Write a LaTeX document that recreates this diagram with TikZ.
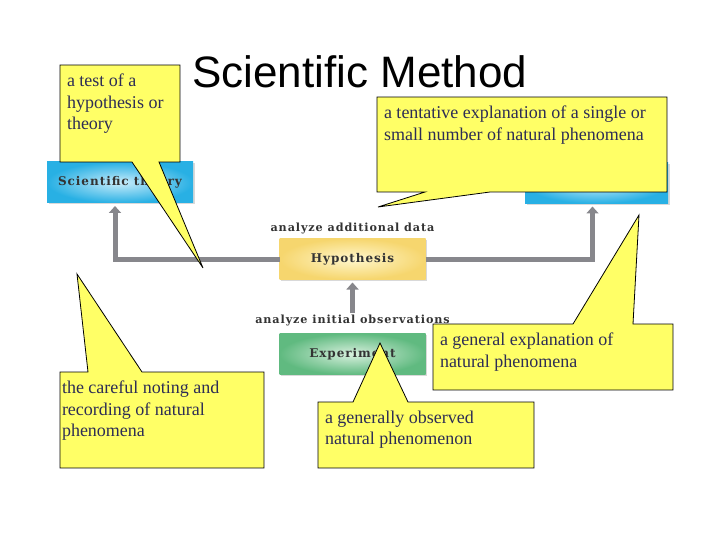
\documentclass[tikz,border=0pt]{standalone}
\usepackage{fontspec}
\setmainfont{Liberation Serif}
\newfontfamily\titlefont{Liberation Sans}
\newfontfamily\boxfont[LetterSpace=8]{DejaVu Serif}
\usetikzlibrary{arrows.meta, positioning, shadows}

\definecolor{noteyellow}{RGB}{255,255,102}
\definecolor{notetext}{RGB}{45,45,85}
\definecolor{blueedge}{RGB}{40,176,228}
\definecolor{bluemid}{RGB}{200,236,250}
\definecolor{yellowedge}{RGB}{246,214,110}
\definecolor{yellowmid}{RGB}{255,247,205}
\definecolor{greenedge}{RGB}{96,186,128}
\definecolor{greenmid}{RGB}{216,240,222}
\definecolor{flowgray}{RGB}{135,135,140}

\begin{document}
\begin{tikzpicture}[x=1pt,y=-1pt,>={Triangle[width=12pt,length=7pt]},node distance=54pt,
  box node/.style={rectangle,minimum width=146pt,minimum height=41pt,inner sep=0pt,outer sep=0pt,
    font=\boxfont\bfseries\fontsize{12}{14}\selectfont,text=black!80,
    drop shadow={shadow xshift=1.5pt,shadow yshift=-1.5pt,opacity=0.3}},
  flow label/.style={font=\boxfont\bfseries\fontsize{11.2}{13}\selectfont,text=black!80,inner sep=2pt},
  flow line/.style={draw=flowgray,line width=5pt,shorten >=3pt},
  note node/.style={fill=noteyellow,anchor=north west,inner xsep=7pt,inner ysep=9pt,outer sep=0pt,
    font=\fontsize{18}{21.5}\selectfont,text=notetext},
  note line/.style={draw=black,line width=0.8pt}]
  \useasboundingbox (0,0) rectangle (720,540);

  % the method
  \node[box node,inner color=bluemid,outer color=blueedge] (1) at (120,182.5) {Scientific theory};
  \node[box node,inner color=bluemid,outer color=blueedge,minimum width=143pt] (2) at (596.5,183) {};
  \node[box node,inner color=yellowmid,outer color=yellowedge] (3) at (352.5,259) {Hypothesis};
  \node[box node,inner color=greenmid,outer color=greenedge] (4) [below=54pt of 3] {Experiment};
  \node[flow label,above=2pt of 3] (5) {analyze additional data};
  \node[flow label,above=5pt of 4] (6) {analyze initial observations};
  \draw[flow line,->] (3.west) -| ([xshift=-5pt]1.south);
  \draw[flow line,->] (3.east) -| ([xshift=-4pt]2.south);
  \draw[flow line,->] (6) -- (3);

  \node[font=\titlefont\fontsize{44}{50}\selectfont,anchor=base west,inner sep=0pt] (title) at (192,88) {Scientific Method};

  % callouts
  \node[note node] (n1) at (60,65) {\parbox[c][79pt][t]{106pt}{a test of a\\hypothesis or\\theory}};
  \coordinate (tip1) at (203,268);
  \fill[noteyellow] ([xshift=72pt]n1.south west) -- (tip1) -- ([xshift=99pt]n1.south west) -- cycle;
  \draw[note line] ([xshift=72pt]n1.south west) -- (n1.south west) -- (n1.north west) -- (n1.north east)
    -- (n1.south east) -- ([xshift=99pt]n1.south west) -- (tip1) -- cycle;

  \node[note node] (n2) at (377,97) {\parbox[c][77pt][t]{276pt}{a tentative explanation of a single or\\small number of natural phenomena}};
  \coordinate (tip2) at (378,207);
  \fill[noteyellow] ([xshift=48pt]n2.south west) -- (tip2) -- ([xshift=113pt]n2.south west) -- cycle;
  \draw[note line] ([xshift=48pt]n2.south west) -- (n2.south west) -- (n2.north west) -- (n2.north east)
    -- (n2.south east) -- ([xshift=113pt]n2.south west) -- (tip2) -- cycle;

  \node[note node] (n3) at (433,324) {\parbox[c][48pt][t]{226pt}{a general explanation of\\natural phenomena}};
  \coordinate (tip3) at (639,215);
  \fill[noteyellow] ([xshift=140pt]n3.north west) -- (tip3) -- ([xshift=200pt]n3.north west) -- cycle;
  \draw[note line] ([xshift=140pt]n3.north west) -- (n3.north west) -- (n3.south west) -- (n3.south east)
    -- (n3.north east) -- ([xshift=200pt]n3.north west) -- (tip3) -- cycle;

  \node[note node,inner xsep=2pt] (n4) at (60,372) {\parbox[c][78pt][t]{200pt}{the careful noting and\\recording of natural\\phenomena}};
  \coordinate (tip4) at (77,274);
  \fill[noteyellow] ([xshift=28pt]n4.north west) -- (tip4) -- ([xshift=82pt]n4.north west) -- cycle;
  \draw[note line] ([xshift=28pt]n4.north west) -- (n4.north west) -- (n4.south west) -- (n4.south east)
    -- (n4.north east) -- ([xshift=82pt]n4.north west) -- (tip4) -- cycle;

  \node[note node] (n5) at (318,402) {\parbox[c][48pt][t]{202pt}{a generally observed\\natural phenomenon}};
  \coordinate (tip5) at (380,343);
  \fill[noteyellow] ([xshift=35pt]n5.north west) -- (tip5) -- ([xshift=90pt]n5.north west) -- cycle;
  \draw[note line] ([xshift=35pt]n5.north west) -- (n5.north west) -- (n5.south west) -- (n5.south east)
    -- (n5.north east) -- ([xshift=90pt]n5.north west) -- (tip5) -- cycle;
\end{tikzpicture}
\end{document}
